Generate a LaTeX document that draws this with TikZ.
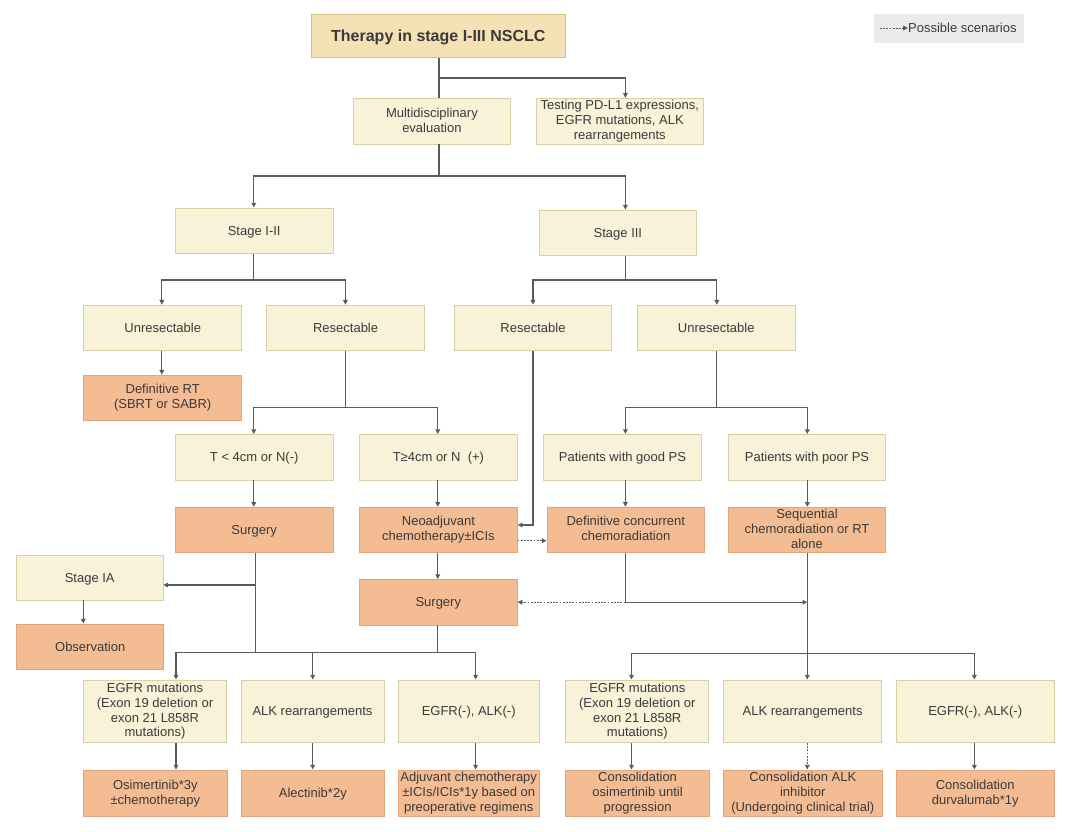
\documentclass[tikz,border=0pt]{standalone}
\usepackage{fontspec}
\setmainfont{Liberation Sans}
\usetikzlibrary{arrows.meta}
\definecolor{boxfill}{HTML}{F8F2D8}
\definecolor{boxline}{HTML}{D8CFA6}
\definecolor{titlefill}{HTML}{F4E2B4}
\definecolor{titleline}{HTML}{D4BE8A}
\definecolor{ofill}{HTML}{F4BC92}
\definecolor{oline}{HTML}{E2A57B}
\definecolor{ln}{HTML}{5A5A5A}
\definecolor{txt}{HTML}{3A3A3A}
\definecolor{legfill}{HTML}{EBEBEB}
\newcommand{\boxfs}{\fontsize{13}{14.8}\selectfont}
\tikzset{
  basebox/.style={draw=boxline, fill=boxfill, line width=0.8pt, inner sep=0pt, align=center,
    minimum width=157.7pt, minimum height=45.5pt, text=txt},
  box/.style={basebox, font=\boxfs,
    execute at begin node={\rule{0pt}{12.1pt}},
    execute at end node={\rule[-2.8pt]{0pt}{0pt}}},
  titlebox/.style={basebox, draw=titleline, fill=titlefill,
    font=\fontsize{16}{19}\selectfont\bfseries,
    execute at begin node={\rule{0pt}{15pt}},
    execute at end node={\rule[-3.4pt]{0pt}{0pt}}},
  obox/.style={box, draw=oline, fill=ofill},
  tallbox/.style={box, minimum height=62.7pt},
  lowbox/.style={obox, minimum height=46.7pt},
  conn/.style={draw=ln, line width=1.2pt},
  arr/.style={conn, -{Triangle[length=4.8pt,width=4.6pt]}},
  dotline/.style={dash pattern=on 1.8pt off 1.4pt}
}
\begin{document}
\begin{tikzpicture}[x=1pt,y=-1pt]
\useasboundingbox[fill=white] (0,0) rectangle (1080,831);

% column coordinates
\coordinate (cA) at (439,0);
\coordinate (cB) at (625.4,0);
\coordinate (cC) at (253.8,0);
\coordinate (cD) at (161.8,0);
\coordinate (cE) at (345.4,0);
\coordinate (cF) at (437.8,0);
\coordinate (cG) at (533,0);
\coordinate (cH) at (716.8,0);
\coordinate (cI) at (807.3,0);
\coordinate (cJ) at (255.5,0);
\coordinate (cK) at (83.3,0);
\coordinate (cL) at (176,0);
\coordinate (cM) at (312.7,0);
\coordinate (cN) at (475.6,0);
\coordinate (cO) at (631.5,0);
\coordinate (cP) at (974.4,0);

% legend
\node[fill=legfill, minimum width=149.8pt, minimum height=29.3pt, inner sep=0pt] (legend) at (948.9,28.7) {};
\node[anchor=west, inner sep=0pt, font=\boxfs, text=txt] (legtxt) at (908,28) {Possible scenarios};
\coordinate (legstart) at (880,28);
\draw[arr, dotline, line width=0.9pt] (legstart) -- (legtxt.west);

% nodes
\node[titlebox, minimum width=253.4pt, minimum height=43.3pt] (title) at (438.3,35.7) {Therapy in stage I-III NSCLC};
\node[box] (multi) at (431.9,121.3) {Multidisciplinary\\evaluation};
\node[box, minimum width=166.5pt, minimum height=46pt] (testing) at (619.8,121.3) {Testing PD-L1 expressions,\\EGFR mutations, ALK\\rearrangements};
\node[box] (stage12) at (254.2,230.7) {Stage I-II};
\node[box] (stage3) at (617.9,232.8) {Stage III};
\node[box] (unresL) at (162.7,327.9) {Unresectable};
\node[box] (resL) at (345.6,327.9) {Resectable};
\node[box] (resR) at (533,327.9) {Resectable};
\node[box] (unresR) at (716.2,327.9) {Unresectable};
\node[obox] (defRT) at (162.7,397.9) {Definitive RT\\(SBRT or SABR)};
\node[box] (tlt) at (254.2,457.2) {T < 4cm or N(-)};
\node[box] (tge) at (438.4,457.2) {T≥4cm or N\ \ (+)};
\node[box] (good) at (622.5,457.2) {Patients with good PS};
\node[box] (poor) at (807,457.2) {Patients with poor PS};
\node[obox] (surgL) at (254.2,530) {Surgery};
\node[obox] (neo) at (438.4,530) {Neoadjuvant\\chemotherapy±ICIs};
\node[obox] (defCC) at (625.8,530) {Definitive concurrent\\chemoradiation};
\node[obox] (seq) at (807,530) {Sequential\\chemoradiation or RT\\alone};
\node[box, minimum width=146.4pt, minimum height=45pt] (stageIA) at (89.7,577.5) {Stage IA};
\node[obox, minimum width=147.3pt, minimum height=45pt] (obs) at (90.2,646.5) {Observation};
\node[obox] (surgM) at (438.3,602.2) {Surgery};

\node[tallbox, minimum width=143.3pt] (egfrL) at (155,711.3) {EGFR mutations\\(Exon 19 deletion or\\exon 21 L858R\\mutations)};
\node[tallbox, minimum width=143pt] (alkL) at (312.5,711.3) {ALK rearrangements};
\node[tallbox, minimum width=140.6pt] (negL) at (468.7,711.3) {EGFR(-), ALK(-)};
\node[tallbox, minimum width=142.9pt] (egfrR) at (637.3,711.3) {EGFR mutations\\(Exon 19 deletion or\\exon 21 L858R\\mutations)};
\node[tallbox, minimum width=158.1pt] (alkR) at (802.6,711.3) {ALK rearrangements};
\node[tallbox, minimum width=157.6pt] (negR) at (975.2,711.3) {EGFR(-), ALK(-)};

\node[lowbox, minimum width=144pt] (osim) at (155.3,793.3) {Osimertinib*3y\\±chemotherapy};
\node[lowbox, minimum width=143.6pt] (alec) at (312.8,793.3) {Alectinib*2y};
\node[lowbox, minimum width=140.6pt] (adj) at (468.7,793.3) {Adjuvant chemotherapy\\±ICIs/ICIs*1y based on\\preoperative regimens};
\node[lowbox, minimum width=143.6pt] (consOsim) at (637.6,793.3) {Consolidation\\osimertinib until\\progression};
\node[lowbox, minimum width=158.5pt] (consALK) at (802.8,793.3) {Consolidation ALK\\inhibitor\\(Undergoing clinical trial)};
\node[lowbox, minimum width=157.6pt] (consDurva) at (975.2,793.3) {Consolidation\\durvalumab*1y};

% junctions
\coordinate (jT) at (439,78);
\coordinate (jM) at (439,176);
\coordinate (j12) at (253.8,280);
\coordinate (jR) at (345.4,407.7);
\coordinate (j3) at (625.4,280);
\coordinate (jU) at (716.8,407.7);
\coordinate (jD) at (625.4,602.2);
\coordinate (jB) at (807.3,653.3);
\coordinate (jS) at (255.5,585);
\coordinate (jL) at (255.5,652.7);

% connectors
\draw[conn] (title.south -| cA) -- (multi.north -| cA);
\draw[arr] (jT) -| (testing.north -| cB);
\draw[conn] (multi.south -| cA) -- (jM);
\draw[arr] (jM) -| (stage12.north -| cC);
\draw[arr] (jM) -| (stage3.north -| cB);

\draw[conn] (stage12.south -| cC) -- (j12);
\draw[arr] (j12) -| (unresL.north -| cD);
\draw[arr] (j12) -| (resL.north -| cE);
\draw[arr] (unresL.south -| cD) -- (defRT.north -| cD);
\draw[conn] (resL.south -| cE) -- (jR);
\draw[arr] (jR) -| (tlt.north -| cC);
\draw[arr] (jR) -| (tge.north -| cF);
\draw[arr] (tlt.south -| cC) -- (surgL.north -| cC);
\draw[arr] (tge.south -| cF) -- (neo.north -| cF);

\draw[conn] (stage3.south -| cB) -- (j3);
\draw[arr] (j3) -| (resR.north -| cG);
\draw[arr] (j3) -| (unresR.north -| cH);
\draw[arr] (resR.south -| cG) |- ([yshift=5pt]neo.east);
\draw[arr, dotline] ([yshift=-10.7pt]neo.east) -- ([yshift=-10.7pt]defCC.west);
\draw[conn] (unresR.south -| cH) -- (jU);
\draw[arr] (jU) -| (good.north -| cB);
\draw[arr] (jU) -| (poor.north -| cI);
\draw[arr] (good.south -| cB) -- (defCC.north -| cB);
\draw[arr] (poor.south -| cI) -- (seq.north -| cI);

\draw[arr] (neo.south -| cF) -- (surgM.north -| cF);
\draw[conn] (defCC.south -| cB) -- (jD);
\draw[arr] (jD) -- (jD -| cI);
\draw[arr, dotline] (jD) -- (surgM.east);
\draw[arr] (seq.south -| cI) -- (alkR.north -| cI);
\draw[arr] (jB) -| (egfrR.north -| cO);
\draw[arr] (jB) -| (negR.north -| cP);

\draw[conn] (surgL.south -| cJ) -- (jL);
\draw[arr] (jS) -- (stageIA.east |- jS);
\draw[arr] (stageIA.south -| cK) -- (obs.north -| cK);
\draw[conn] (surgM.south -| cF) -- (jL -| cF);
\draw[arr] (jL) -| (egfrL.north -| cL);
\draw[arr] (jL) -| (negL.north -| cN);
\draw[arr] (jL -| cM) -- (alkL.north -| cM);

\draw[arr] (egfrL.south -| cL) -- (osim.north -| cL);
\draw[arr] (alkL.south -| cM) -- (alec.north -| cM);
\draw[arr] (negL.south -| cN) -- (adj.north -| cN);
\draw[arr] (egfrR.south -| cO) -- (consOsim.north -| cO);
\draw[arr, dotline] (alkR.south -| cI) -- (consALK.north -| cI);
\draw[arr] (negR.south -| cP) -- (consDurva.north -| cP);
\end{tikzpicture}
\end{document}
